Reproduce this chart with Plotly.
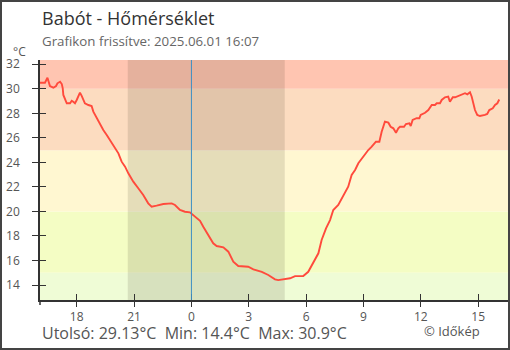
import plotly.graph_objects as go

# ---- data (hours since 2025-05-31 00:00, temperature °C) ----
hours = [16.08, 16.34, 16.47, 16.60, 16.78, 16.92, 16.99, 17.13, 17.22, 17.27, 17.30, 17.39, 17.48,
         17.65, 17.74, 17.82, 17.91, 18.00, 18.08, 18.17, 18.26, 18.35, 18.43, 18.61, 18.78, 18.87,
         19.05, 19.22, 19.39, 19.57, 19.71, 20.09, 20.18, 20.35, 20.53, 20.70, 20.96, 21.22, 21.48,
         21.74, 21.92, 22.18, 22.53, 22.97, 23.14, 23.40, 23.66, 23.92, 24.10, 24.45, 24.62, 24.88,
         25.14, 25.32, 25.67, 25.93, 26.19, 26.45, 26.97, 27.24, 27.68, 28.02, 28.37, 28.54, 28.81,
         29.16, 29.42, 29.85, 30.11, 30.37, 30.46, 30.64, 30.81, 31.04, 31.25, 31.42, 31.68, 31.86,
         32.03, 32.20, 32.38, 32.56, 32.73, 32.99, 33.25, 33.43, 33.65, 33.83, 33.95, 34.12, 34.30,
         34.42, 34.56, 34.70, 34.82, 34.91, 35.12, 35.22, 35.40, 35.47, 35.57, 35.78, 35.92, 35.99,
         36.22, 36.39, 36.57, 36.74, 36.83, 37.00, 37.09, 37.26, 37.43, 37.52, 37.67, 37.79, 37.96,
         38.14, 38.31, 38.43, 38.57, 38.66, 38.74, 38.83, 38.95, 39.09, 39.35, 39.47, 39.58, 39.76,
         39.88, 40.00, 40.10]
temps = [30.50, 30.50, 30.90, 30.23, 30.09, 30.23, 30.45, 30.58, 30.39, 30.04, 29.50, 29.09, 28.82,
         28.82, 29.03, 28.95, 28.82, 29.09, 29.42, 29.69, 29.42, 29.15, 28.82, 28.68, 28.60, 28.14,
         27.60, 27.05, 26.64, 26.23, 25.88, 25.01, 24.74, 24.06, 23.65, 23.11, 22.43, 21.89, 21.34,
         20.66, 20.39, 20.47, 20.61, 20.66, 20.53, 20.12, 19.98, 19.93, 19.71, 19.24, 18.76, 18.08,
         17.40, 17.18, 17.08, 16.72, 15.90, 15.55, 15.49, 15.28, 15.08, 14.82, 14.46, 14.40, 14.46,
         14.55, 14.73, 14.73, 15.08, 15.77, 16.04, 16.59, 17.67, 18.62, 19.30, 20.12, 20.53, 21.07,
         21.61, 22.02, 22.97, 23.38, 23.93, 24.47, 25.01, 25.28, 25.69, 25.69, 26.50, 27.32, 27.24,
         26.91, 26.78, 26.42, 26.78, 26.91, 26.91, 27.13, 27.19, 26.97, 27.46, 27.60, 27.60, 27.87,
         28.05, 28.27, 28.68, 28.68, 28.82, 28.82, 29.09, 29.31, 29.36, 28.95, 29.31, 29.31, 29.42,
         29.55, 29.64, 29.55, 29.72, 29.36, 28.82, 28.27, 27.87, 27.78, 27.87, 27.95, 28.27, 28.41,
         28.68, 28.82, 29.13]

x_tick_vals = [18, 21, 24, 27, 30, 33, 36, 39]
x_tick_text = ["18", "21", "0", "3", "6", "9", "12", "15"]
y_tick_vals = [14, 16, 18, 20, 22, 24, 26, 28, 30, 32]

band_edges = [12.78, 15, 20, 25, 30, 32.35]
band_colors = ["#effcd6", "#f4fdc4", "#fff7d1", "#fcdcc0", "#ffc5b1"]

night_start, night_end = 20.67, 28.88
midnight = 24

x_range = [16.08, 40.61]
y_range = [12.78, 32.35]

title = "Babót - Hőmérséklet"
subtitle = "Grafikon frissítve: 2025.06.01 16:07"
footer = "Utolsó: 29.13°C\u00a0\u00a0Min: 14.4°C\u00a0\u00a0Max: 30.9°C"
credit = "© Időkép"

FONT = "Open Sans"
AX = "#333333"

fig = go.Figure()
fig.add_trace(go.Scatter(x=hours, y=temps, mode="lines",
                         line=dict(color="#ff4a3c", width=1.9),
                         hoverinfo="skip", showlegend=False))
fig.add_trace(go.Scatter(x=[], y=[], xaxis="x2", yaxis="y2", showlegend=False, hoverinfo="skip"))

shapes = []
for i, c in enumerate(band_colors):
    shapes.append(dict(type="rect", xref="paper", yref="y", x0=0, x1=1,
                       y0=band_edges[i], y1=band_edges[i + 1],
                       fillcolor=c, line=dict(width=0), layer="below"))
shapes.append(dict(type="rect", xref="x", yref="paper", x0=night_start, x1=night_end,
                   y0=0, y1=1, fillcolor="rgba(40,30,20,0.12)", line=dict(width=0), layer="below"))
shapes.append(dict(type="line", xref="x", yref="paper", x0=midnight, x1=midnight,
                   y0=0, y1=1, line=dict(color="#3d8fc4", width=1), layer="above"))
# outer frame
shapes.append(dict(type="rect", xref="paper", yref="paper",
                   x0=(1 - 40) / 469, x1=(509 - 40) / 469,
                   y0=(300 - 349) / 240, y1=(300 - 1) / 240,
                   line=dict(color="#444444", width=2)))
# small y-axis extension below x axis
shapes.append(dict(type="line", xref="paper", yref="paper", x0=0, x1=0,
                   y0=0, y1=-5 / 240, line=dict(color=AX, width=1.5)))

ann = [
    dict(text=title, x=0, y=(300 - 18) / 240, xref="paper", yref="paper",
         xanchor="left", yanchor="middle", showarrow=False,
         font=dict(family=FONT, size=18, color="#333333")),
    dict(text=subtitle, x=0, y=(300 - 41) / 240, xref="paper", yref="paper",
         xanchor="left", yanchor="middle", showarrow=False,
         font=dict(family=FONT, size=13.3, color="#666666")),
    dict(text="°C", x=(19 - 40) / 469, y=(300 - 52) / 240, xref="paper", yref="paper",
         xanchor="center", yanchor="middle", showarrow=False,
         font=dict(family=FONT, size=12, color="#555555")),
    dict(text=footer, x=0, y=(300 - 333) / 240, xref="paper", yref="paper",
         xanchor="left", yanchor="middle", showarrow=False,
         font=dict(family=FONT, size=16, color="#555555")),
    dict(text=credit, x=(452 - 40) / 469, y=(300 - 331) / 240, xref="paper", yref="paper",
         xanchor="center", yanchor="middle", showarrow=False,
         font=dict(family=FONT, size=13, color="#555555")),
]

fig.update_layout(
    width=510, height=350,
    margin=dict(l=40, r=1, t=60, b=50),
    paper_bgcolor="white", plot_bgcolor="white",
    shapes=shapes, annotations=ann,
    font=dict(family=FONT, size=12, color="#555555"),
    xaxis=dict(range=x_range, tickvals=x_tick_vals, ticktext=x_tick_text,
               ticks="outside", ticklen=5, tickwidth=1, tickcolor=AX,
               showline=True, linecolor=AX, linewidth=1.5,
               showgrid=False, zeroline=False, ticklabelstandoff=0,
               tickfont=dict(family=FONT, size=12, color="#555555"), fixedrange=True),
    yaxis=dict(range=y_range, tickvals=y_tick_vals,
               ticks="outside", ticklen=6, tickwidth=1, tickcolor=AX,
               showline=True, linecolor=AX, linewidth=1.5,
               showgrid=False, zeroline=False, ticklabelstandoff=10,
               tickfont=dict(family=FONT, size=12, color="#555555"), fixedrange=True),
    xaxis2=dict(range=x_range, tickvals=x_tick_vals, overlaying="x", anchor="y2", side="bottom",
                ticks="inside", ticklen=6, tickwidth=1, tickcolor=AX,
                showticklabels=False, showline=False, showgrid=False, zeroline=False),
    yaxis2=dict(range=y_range, tickvals=y_tick_vals, overlaying="y", anchor="x2", side="left",
                ticks="inside", ticklen=6, tickwidth=1, tickcolor=AX,
                showticklabels=False, showline=False, showgrid=False, zeroline=False),
)

fig.write_html("out.html")
